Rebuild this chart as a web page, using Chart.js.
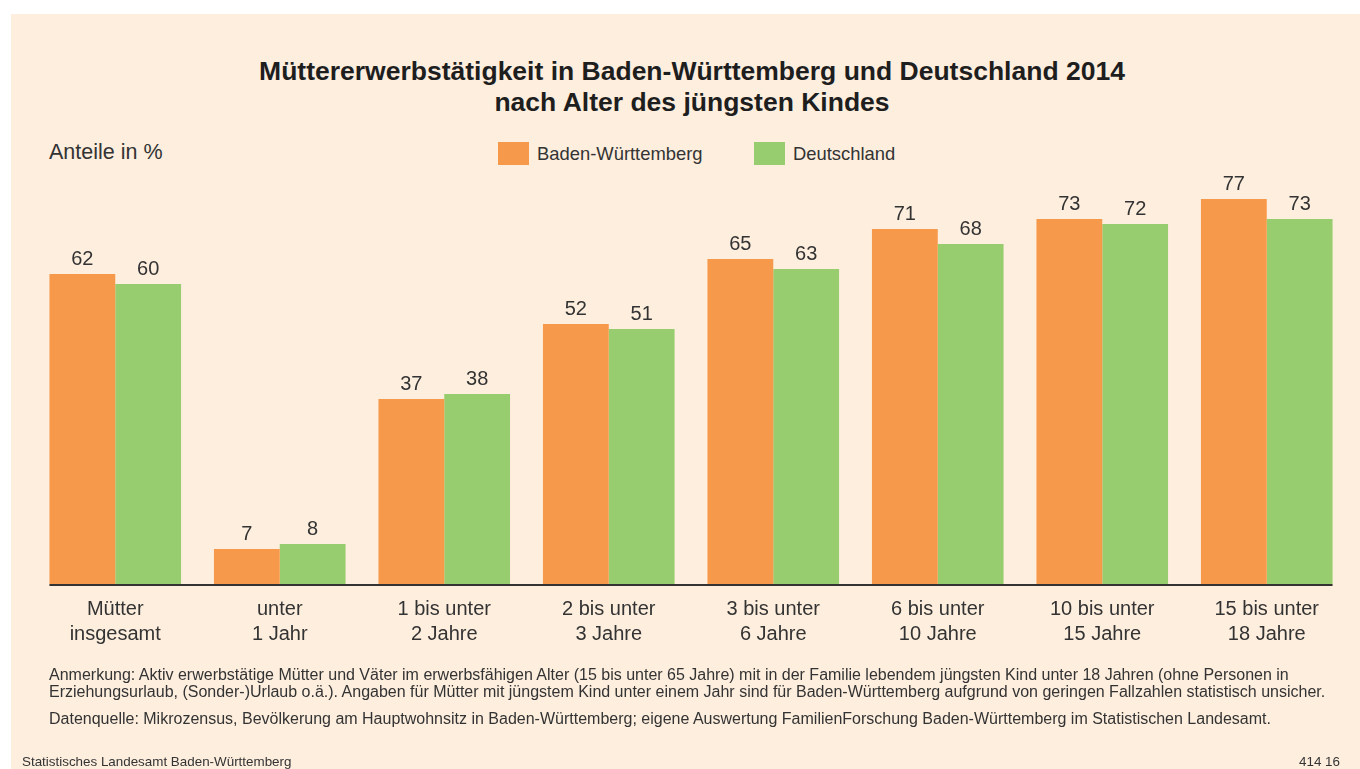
<!DOCTYPE html>
<html lang="de">
<head>
<meta charset="utf-8">
<title>Müttererwerbstätigkeit 2014</title>
<script src="https://cdn.jsdelivr.net/npm/chart.js@4.4.0/dist/chart.umd.min.js"></script>
<style>
  html, body { margin: 0; padding: 0; background: #fff; }
  body { width: 1360px; height: 769px; position: relative; overflow: hidden; font-family: "Liberation Sans", Arial, sans-serif; color: #333; }
  .panel { position: absolute; left: 11px; top: 14px; right: 0; bottom: 0; background: #fdeede; }
  .titel { position: absolute; left: 0; width: 1384px; top: 56px; text-align: center; font-weight: bold; font-size: 26.5px; line-height: 31px; color: #1e1e1e; }
  .einheit { position: absolute; left: 49px; top: 140px; font-size: 21.5px; }
  .legende { position: absolute; top: 142px; left: 498px; font-size: 18.4px; }
  .legende span.box { position: absolute; top: 0; width: 31px; height: 23px; }
  .legende span.txt { position: absolute; top: 0; line-height: 23px; white-space: nowrap; }
  .fuss { position: absolute; left: 49px; font-size: 16px; line-height: 17px; white-space: nowrap; }
  .quelle { position: absolute; top: 754px; font-size: 13.4px; }
  #chart { position: absolute; left: 0; top: 0; }
</style>
</head>
<body>
<div class="panel"></div>
<div class="titel">Müttererwerbstätigkeit in Baden-Württemberg und Deutschland 2014<br>nach Alter des jüngsten Kindes</div>
<div class="einheit">Anteile in %</div>
<div class="legende">
  <span class="box" style="left:0;background:#f7994a"></span><span class="txt" style="left:39px">Baden-Württemberg</span>
  <span class="box" style="left:256px;background:#97cd6f"></span><span class="txt" style="left:295px">Deutschland</span>
</div>
<canvas id="chart" width="1360" height="769"></canvas>
<div class="fuss" style="top:666px">Anmerkung: Aktiv erwerbstätige Mütter und Väter im erwerbsfähigen Alter (15 bis unter 65 Jahre) mit in der Familie lebendem jüngsten Kind unter 18 Jahren (ohne Personen in<br>Erziehungsurlaub, (Sonder-)Urlaub o.ä.). Angaben für Mütter mit jüngstem Kind unter einem Jahr sind für Baden-Württemberg aufgrund von geringen Fallzahlen statistisch unsicher.</div>
<div class="fuss" style="top:710px">Datenquelle: Mikrozensus, Bevölkerung am Hauptwohnsitz in Baden-Württemberg; eigene Auswertung FamilienForschung Baden-Württemberg im Statistischen Landesamt.</div>
<div class="quelle" style="left:22px">Statistisches Landesamt Baden-Württemberg</div>
<div class="quelle" style="right:20px">414 16</div>

<script>
const kategorien = [
  ['Mütter', 'insgesamt'],
  ['unter', '1 Jahr'],
  ['1 bis unter', '2 Jahre'],
  ['2 bis unter', '3 Jahre'],
  ['3 bis unter', '6 Jahre'],
  ['6 bis unter', '10 Jahre'],
  ['10 bis unter', '15 Jahre'],
  ['15 bis unter', '18 Jahre']
]

const bw = [62, 7, 37, 52, 65, 71, 73, 77]
const de = [60, 8, 38, 51, 63, 68, 72, 73]

// Werte über den Balken und Grundlinie
const beschriftung = {
  id: 'beschriftung',
  afterDatasetsDraw(chart) {
    const ctx = chart.ctx
    ctx.save()
    ctx.font = '20px "Liberation Sans", Arial, sans-serif'
    ctx.fillStyle = '#333'
    ctx.textAlign = 'center'
    ctx.textBaseline = 'bottom'
    chart.data.datasets.forEach((ds, i) => {
      chart.getDatasetMeta(i).data.forEach((bar, j) => {
        ctx.fillText(ds.data[j], bar.x, bar.y - 5)
      })
    })
    const erste = chart.getDatasetMeta(0).data[0]
    const letzte = chart.getDatasetMeta(1).data[chart.data.labels.length - 1]
    const y = chart.scales.y.getPixelForValue(0)
    ctx.strokeStyle = '#333'
    ctx.lineWidth = 2
    ctx.beginPath()
    ctx.moveTo(erste.x - erste.width / 2, y + 1)
    ctx.lineTo(letzte.x + letzte.width / 2, y + 1)
    ctx.stroke()
    ctx.restore()
  }
}

new Chart(document.getElementById('chart'), {
  type: 'bar',
  data: {
    labels: kategorien,
    datasets: [
      { label: 'Baden-Württemberg', data: bw, backgroundColor: '#f7994a' },
      { label: 'Deutschland', data: de, backgroundColor: '#97cd6f' }
    ]
  },
  options: {
    responsive: false,
    animation: false,
    layout: { padding: { top: 184, bottom: 105, left: 33, right: 11 } },
    datasets: { bar: { categoryPercentage: 0.8, barPercentage: 1.0 } },
    plugins: { legend: { display: false }, tooltip: { enabled: false } },
    scales: {
      x: {
        grid: { display: false },
        border: { display: false },
        afterFit(scale) { scale.height = 80 },
        ticks: {
          padding: 5,
          color: '#333',
          font: { family: '"Liberation Sans", Arial, sans-serif', size: 20, lineHeight: 1.25 }
        }
      },
      y: { display: false, min: 0, max: 80 }
    }
  },
  plugins: [beschriftung]
})
</script>
</body>
</html>
